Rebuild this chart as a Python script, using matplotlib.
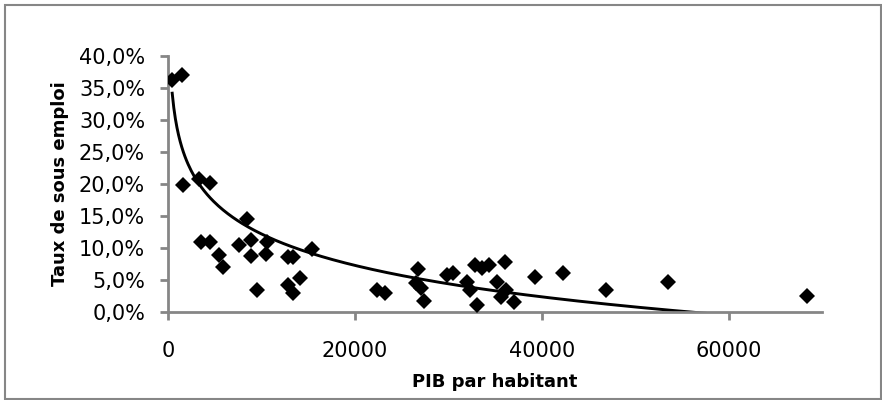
import numpy as np
import matplotlib.pyplot as plt
from matplotlib.ticker import FuncFormatter
from matplotlib.patches import Rectangle

plt.rcParams['font.family'] = ['DejaVu Sans']

# PIB par habitant vs taux de sous emploi
pib = [450, 1500, 1600, 3300, 4500, 8460, 3540, 4500, 5460, 5900,
       7600, 8900, 8900, 10600, 10500, 9530, 12860, 13400, 12860, 14140,
       13400, 15430, 22400, 23250, 26800, 26500, 27100, 27400, 29900, 30500,
       32000, 32350, 33100, 32900, 33600, 34400, 35200, 36100, 35600, 36200,
       37000, 39300, 42300, 46900, 53500, 68400]
taux = [36.2, 37.0, 19.8, 20.8, 20.1, 14.5, 10.9, 10.9, 8.9, 7.0,
        10.4, 11.2, 8.7, 10.9, 9.0, 3.4, 8.55, 8.55, 4.2, 5.3,
        3.0, 9.8, 3.4, 3.0, 6.7, 4.5, 3.7, 1.7, 5.75, 6.1,
        4.7, 3.4, 1.1, 7.3, 6.8, 7.3, 4.7, 7.8, 2.3, 3.4,
        1.6, 5.4, 6.1, 3.4, 4.7, 2.5]

# log trend line y = a*ln(x) + b, coefficients
trend_a = -0.0709
trend_b = 0.775

x = np.array(pib, dtype=float)
y = np.array(taux) / 100

xt = np.linspace(x.min(), x.max(), 400)
yt = trend_a * np.log(xt) + trend_b

fig = plt.figure(figsize=(8.82, 4.0), dpi=100)
ax = fig.add_axes([168 / 882, 88 / 400, 654 / 882, 256 / 400])

ax.plot(xt, yt, color='black', lw=2.1, zorder=2)
ax.plot(x, y, 'D', color='black', ms=8, mew=0, zorder=3)

ax.set_xlim(0, 70000)
ax.set_ylim(0, 0.4)
ax.set_xticks([0, 20000, 40000, 60000])
ax.set_yticks(np.arange(0, 0.41, 0.05))
ax.yaxis.set_major_formatter(FuncFormatter(lambda v, p: f'{v*100:.1f}%'.replace('.', ',')))

grey = '#868686'
for side in ['top', 'right']:
    ax.spines[side].set_visible(False)
for side in ['left', 'bottom']:
    ax.spines[side].set_color(grey)
    ax.spines[side].set_linewidth(2)
ax.tick_params(axis='both', colors=grey, labelcolor='black', length=5.5, width=2,
               labelsize=15)
ax.tick_params(axis='y', pad=11)
ax.tick_params(axis='x', pad=15.5)

ax.set_xlabel('PIB par habitant', fontsize=13, fontweight='bold')
ax.set_ylabel('Taux de sous emploi', fontsize=13, fontweight='bold')
ax.xaxis.set_label_coords(0.5, -0.24)
ax.yaxis.set_label_coords(-0.152, 0.5)

fig.patches.append(Rectangle((5 / 882, 1 / 400), 876 / 882, 394 / 400, transform=fig.transFigure,
                             fill=False, edgecolor=grey, lw=1.5))

fig.savefig('out.png', dpi=100)
